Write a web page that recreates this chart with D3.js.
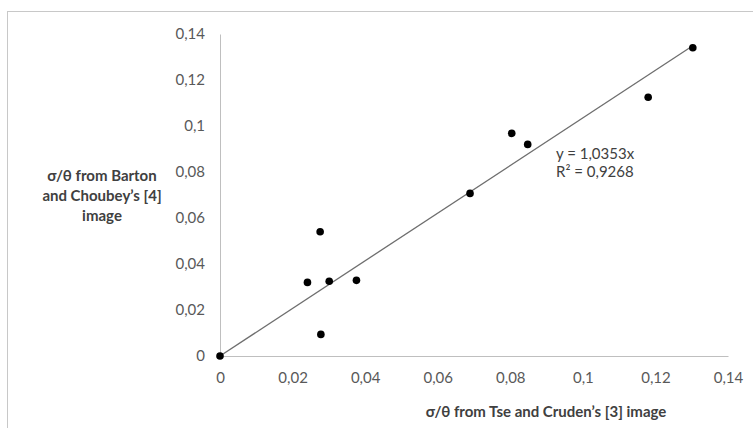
<!DOCTYPE html>
<html>
<head>
<meta charset="utf-8">
<script src="https://cdn.jsdelivr.net/npm/d3@7"></script>
<style>
  body { margin: 0; background: #fff; }
  svg { font-family: Lato, "Open Sans", sans-serif; }
</style>
</head>
<body>
<svg id="chart" width="753" height="428"></svg>
<script>
'use strict';

// values
var xVals = [0, 0.0241, 0.0276, 0.0301, 0.0376, 0.0278, 0.0689, 0.0804, 0.0848, 0.1180, 0.1303];
var yVals = [0, 0.0320, 0.0540, 0.0325, 0.0329, 0.0094, 0.0707, 0.0968, 0.0920, 0.1125, 0.1340];
var xTicks = [0, 0.02, 0.04, 0.06, 0.08, 0.1, 0.12, 0.14];
var yTicks = [0, 0.02, 0.04, 0.06, 0.08, 0.1, 0.12, 0.14];
var slope = 1.0353;
var rSquared = 0.9268;
var xTitle = 'σ/θ from Tse and Cruden’s [3] image';
var yTitle = ['σ/θ from Barton', 'and Choubey’s [4]', 'image'];

var W = 753, H = 428;
var margin = { top: 34, right: 25, bottom: 72, left: 220 };

var svg = d3.select('#chart');

// chart frame (runs off the right and bottom of the picture)
svg.append('rect')
    .attr('x', 7.5).attr('y', 11.5)
    .attr('width', W + 10).attr('height', H + 10)
    .attr('fill', 'none')
    .attr('stroke', '#c8c8c8');

var x = d3.scaleLinear().domain([0, 0.14]).range([margin.left, W - margin.right]);
var y = d3.scaleLinear().domain([0, 0.14]).range([H - margin.bottom, margin.top]);

function comma(d) {
    return String(+d.toFixed(2)).replace('.', ',');
}

var xAxis = svg.append('g')
    .attr('transform', 'translate(0,' + y(0) + ')')
    .call(d3.axisBottom(x).tickValues(xTicks).tickFormat(comma).tickSize(0).tickPadding(16));

var yAxis = svg.append('g')
    .attr('transform', 'translate(' + x(0) + ',0)')
    .call(d3.axisLeft(y).tickValues(yTicks).tickFormat(comma).tickSize(0).tickPadding(15));

[xAxis, yAxis].forEach(function(g) {
    g.select('.domain').attr('stroke', '#bfbfbf');
    g.selectAll('text')
        .attr('fill', '#595959')
        .style('font-size', '15px')
        .style('font-family', 'Lato, sans-serif');
});

// trendline through the origin, over the data range
var xMax = d3.max(xVals);
svg.append('line')
    .attr('x1', x(0)).attr('y1', y(0))
    .attr('x2', x(xMax)).attr('y2', y(slope * xMax))
    .attr('stroke', '#6e6e6e')
    .attr('stroke-width', 1.3);

svg.append('g')
    .selectAll('circle')
    .data(xVals)
    .join('circle')
    .attr('cx', function(d) { return x(d); })
    .attr('cy', function(d, i) { return y(yVals[i]); })
    .attr('r', 3.8)
    .attr('fill', '#000');

// trendline label
var eq = svg.append('text')
    .attr('x', 556)
    .attr('y', 159)
    .attr('fill', '#404040')
    .style('font-size', '15px');
eq.append('tspan').text('y = ' + String(slope).replace('.', ',') + 'x');
eq.append('tspan').attr('x', 556).attr('dy', 18)
    .text('R² = ' + String(rSquared).replace('.', ','));

// axis titles
svg.append('text')
    .attr('x', 546)
    .attr('y', 417)
    .attr('text-anchor', 'middle')
    .attr('fill', '#404040')
    .style('font-size', '15px')
    .style('font-weight', 'bold')
    .text(xTitle);

svg.append('text')
    .attr('text-anchor', 'middle')
    .attr('fill', '#404040')
    .style('font-size', '15px')
    .style('font-weight', 'bold')
    .selectAll('tspan')
    .data(yTitle)
    .join('tspan')
    .attr('x', 102)
    .attr('y', function(d, i) { return 181 + i * 20; })
    .text(function(d) { return d; });
</script>
</body>
</html>
